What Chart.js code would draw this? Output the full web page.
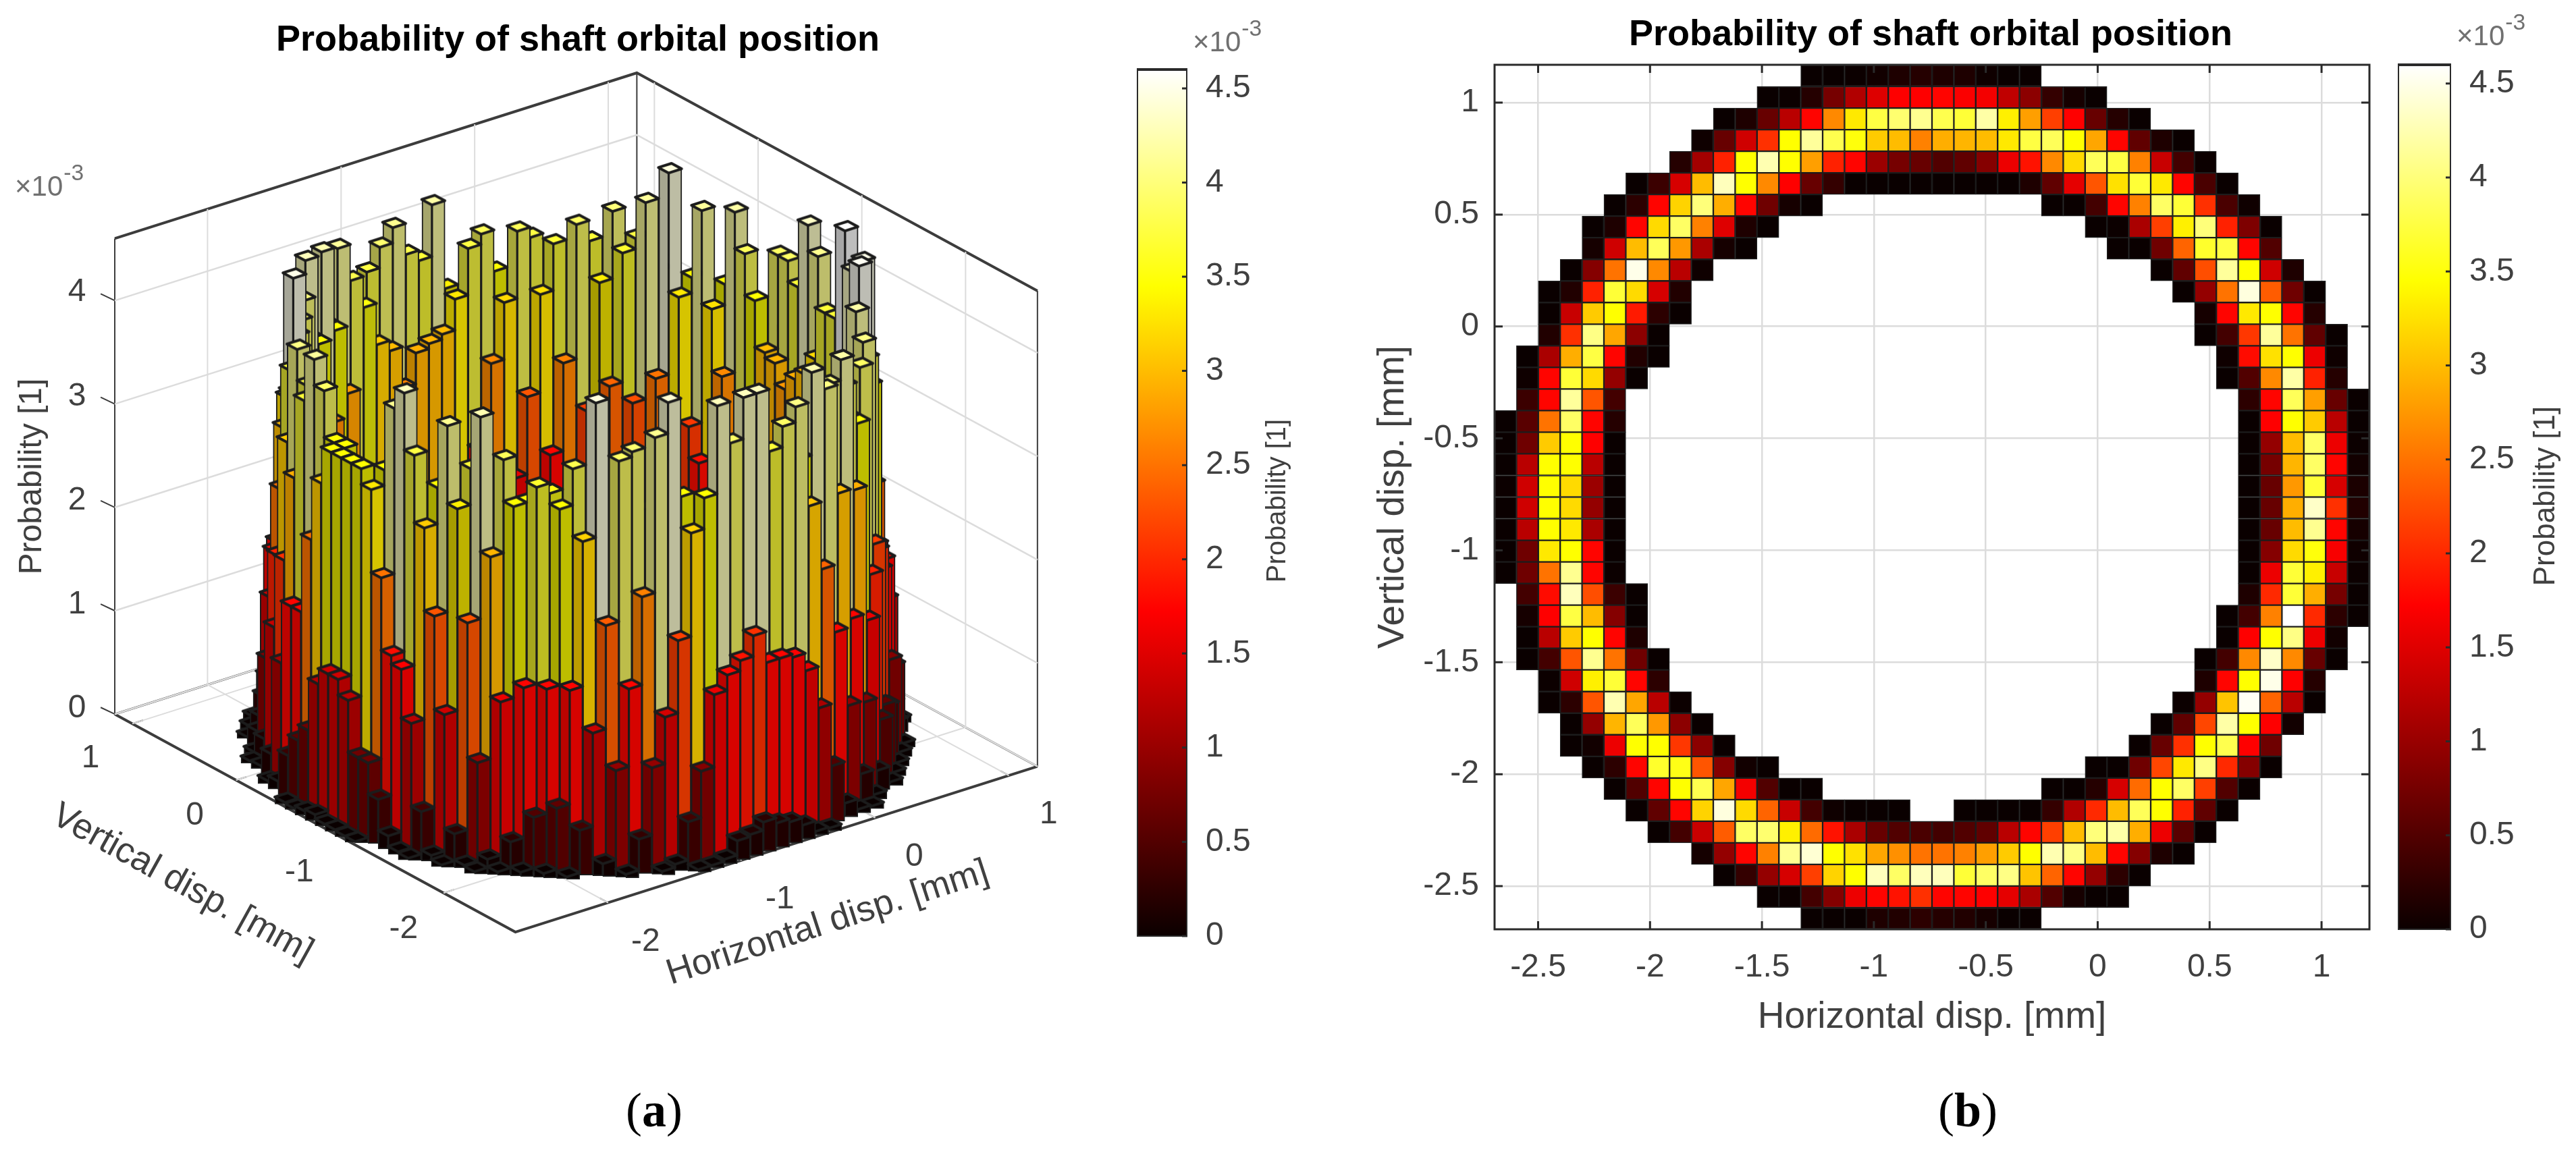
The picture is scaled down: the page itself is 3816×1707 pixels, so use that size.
<!DOCTYPE html>
<html>
<head>
<meta charset="utf-8">
<title>Probability of shaft orbital position</title>
<script src="https://cdn.jsdelivr.net/npm/chart.js@4/dist/chart.umd.min.js"></script>
<style>
    html, body { margin: 0; padding: 0; background: #fff; }
    #page { position: relative; width: 3816px; height: 1707px; overflow: hidden; }
    canvas { position: absolute; display: block; }
    .cap { position: absolute; font: 72px 'Liberation Serif', serif; color: #000; transform: translate(-50%, -50%); }
</style>
</head>
<body>
<div id="page">
    <canvas id="bars3d" width="1684" height="1560" style="left:0;top:0"></canvas>
    <canvas id="barA" width="240" height="1500" style="left:1684px;top:0"></canvas>
    <canvas id="heat" width="1540" height="1560" style="left:2000px;top:0"></canvas>
    <canvas id="barB" width="264" height="1500" style="left:3552px;top:0"></canvas>
    <div class="cap" style="left:969px;top:1645px">(<b>a</b>)</div>
    <div class="cap" style="left:2915px;top:1645px">(<b>b</b>)</div>
</div>
<script>
// probability per cell in units of 1e-3
// one entry per row from the top, each row = [first column, values] segments
var probRows = [
    [[14, [.05,.05,.08,.12,.2,.25,.2,.2,.1,.05,.03]]],
    [[12, [.05,.08,.25,.8,1.2,1.5,1.72,1.72,1.75,1.7,1.65,1.3,.95,.35,.15,.05]]],
    [[10, [.05,.2,.7,1.25,1.75,2.65,3.3,3.75,3.95,4.1,3.8,3.7,4.2,3.35,2.8,2.15,1.72,.7,.25,.05]]],
    [[9,  [.1,.7,1.4,2.05,3.45,4.15,3.8,3.5,3.1,3,2.6,2.9,2.95,3,3.3,3.75,3.85,3.45,2.85,1.75,.65,.2,.05]]],
    [[8,  [.25,1.1,1.95,3.45,4.25,3.45,2.8,1.95,1.75,1.05,.8,.7,.55,.65,.9,1.6,1.85,2.65,3.2,3.85,3.75,2.6,1.35,.45,.08]]],
    [[6,  [.05,.4,1.45,3,4.3,3.45,2.65,1.72,.7,.35,.05,.03,.03,.03,.03,.03,.03,.03,.2,.65,1.55,2.3,3.25,3.7,3.3,1.75,.5,.05]]],
    [[5,  [.05,.3,1.75,3.15,4,2.9,1.75,.75,.15,.05]], [25, [.05,.06,.45,1.75,2.6,3.9,3.7,2.05,.5,.1]]],
    [[4,  [.04,.2,1.75,3.2,3.9,2.6,1.5,.2,.05]], [27, [.04,.08,1.15,2.15,3.35,4,1.95,.85,.05]]],
    [[4,  [.15,1.4,3,3.85,2.75,1.15,.15,.05]], [28, [.04,.06,.75,2.4,3.65,3.75,1.75,.55]]],
    [[3,  [.04,.9,2.5,4.5,2.65,1.25,.1]], [30, [.05,.65,2.25,4.15,3.45,1.4,.2]]],
    [[2,  [.04,.22,1.95,3.7,3.2,1.45,.22]], [31, [.05,1,2.5,4.45,2.35,.75,.05]]],
    [[2,  [.05,1.35,3.1,3.45,1.9,.3,.04]], [32, [.15,1.75,3.3,3.45,1.75,.25]]],
    [[2,  [.22,2.05,4.05,2.85,.95,.05]], [32, [.04,.45,2.1,4.15,2.5,.65,.05]]],
    [[1,  [.05,1.15,2.9,3.75,1.75,.22,.04]], [33, [.1,1.8,3.25,3.45,1.6,.1]]],
    [[1,  [.1,1.75,3.7,3.2,1,.04]], [33, [.05,.55,2.65,4.2,1.95,.25]]],
    [[1,  [.4,1.75,4.15,2.3,.45]], [34, [.3,1.75,3.85,2.8,.7,.05]]],
    [[0,  [.04,.6,2.5,3.9,1.75,.25]], [34, [.05,1.72,3.45,3.1,1.25,.05]]],
    [[0,  [.03,.75,3.1,3.45,1.72,.06]], [34, [.04,1,3,3.9,1.6,.08]]],
    [[0,  [.06,1.25,3.45,3.45,1.25,.04]], [34, [.04,.8,2.95,3.9,1.75,.12]]],
    [[0,  [.08,1.4,3.45,3.2,1.05,.03]], [34, [.03,.7,2.75,3.7,1.45,.18]]],
    [[0,  [.04,1.4,3.45,3.2,1,.03]], [34, [.03,.7,2.9,4.35,2.05,.22]]],
    [[0,  [.04,1.25,3.45,3.3,1.15,.03]], [34, [.03,.7,3,4.1,1.75,.15]]],
    [[0,  [.03,.75,3.3,3.45,1.75,.05]], [34, [.03,.9,3.2,3.5,1.68,.1]]],
    [[0,  [.03,.75,2.5,4.1,1.75,.08]], [34, [.03,1.6,3.7,3.35,1.35,.08]]],
    [[1,  [.45,1.8,4.3,2.25,.4,.05]], [34, [.2,2,3.7,2.9,.8,.04]]],
    [[1,  [.15,1.72,3.75,3,.9,.04]], [33, [.05,.45,2.6,4.6,2,.3,.04]]],
    [[1,  [.05,1.25,3.1,3.45,1.75,.2]], [33, [.05,1.72,3.45,4.05,1.6,.12]]],
    [[1,  [.04,.45,2.3,4.1,2.5,.75,.04]], [32, [.04,.45,2.65,4.35,2.65,.7,.06]]],
    [[2,  [.08,1.4,3.35,3.7,1.75,.3]], [32, [.2,1.75,3.45,4.5,1.72,.25]]],
    [[2,  [.04,.3,2.3,4.25,2.85,1.25,.08]], [31, [.08,1,3.05,4.55,2.4,1.25,.05]]],
    [[3,  [.05,1,2.95,3.85,2.75,.95,.04]], [30, [.04,.65,2.2,4.2,3.45,1.72,.12]]],
    [[3,  [.04,.12,1.6,3.45,3.45,2.1,.95,.05]], [29, [.06,.7,2.05,3.45,3.8,1.72,.75]]],
    [[4,  [.05,.3,1.75,3.65,3.55,2.3,.9,.12,.05]], [27, [.05,.06,.75,2.2,3.3,4.05,2,.9,.05]]],
    [[5,  [.06,.55,1.75,3.45,3.8,2.85,1.65,.55,.04,.04]], [25, [.04,.04,.25,1.45,2.45,3.45,3.9,2.15,.55,.06]]],
    [[6,  [.06,.65,1.75,3.15,4.45,3.2,2.4,1.35,.45,.1,.05,.04,.04]], [21, [.03,.03,.03,.05,.35,1.2,2,3,3.85,3.45,1.95,.65,.05]]],
    [[7,  [.04,.45,1.35,2.35,3.9,3.95,3.35,2.45,1.85,1.15,.7,.55,.5,.45,.55,.65,1.25,1.75,2.15,3,4,4.2,2.9,1.6,.6,.05]]],
    [[9,  [.14,1,1.75,2.6,4.1,4.4,3.45,3.25,2.85,2.7,2.5,2.5,2.6,2.8,3.1,3.45,4.25,4.05,3,1.75,.9,.2,.05]]],
    [[10, [.05,.35,1,1.45,2.15,3.15,3.45,4.3,3.9,4.3,4.3,3.7,3.9,4.05,3.05,2.4,1.75,1,.3,.06]]],
    [[12, [.05,.08,.45,.9,1.6,1.75,1.85,2.05,1.75,1.75,1.72,1.55,1.15,.55,.15,.05,.04]]],
    [[14, [.04,.04,.06,.2,.22,.3,.25,.22,.15,.05,.04]]]
];

var xTicks    = [-2.5, -2, -1.5, -1, -0.5, 0, 0.5, 1];
var yTicks    = [-2.5, -2, -1.5, -1, -0.5, 0, 0.5, 1];
var xTicks3d  = [-2, -1, 0, 1];
var yTicks3d  = [-2, -1, 0, 1];
var zTicks    = [0, 1, 2, 3, 4];
var barTicks  = [0, 0.5, 1, 1.5, 2, 2.5, 3, 3.5, 4, 4.5];
var hotStops  = [[0, '#0b0000'], [0.375, '#ff0000'], [0.75, '#ffff00'], [1, '#ffffff']];

var XMIN = -2.6945, XMAX = 1.214, YMIN = -2.693, YMAX = 1.169, ZMAX = 4.6;
var N = 40;
var DX = (XMAX - XMIN) / N, DY = (YMAX - YMIN) / N;

var TITLE = 'Probability of shaft orbital position';
var TEXT = '#404040', SOFT = '#707070', EDGE = '#1c1c1c';
var SANS = "'Liberation Sans', Arial, sans-serif";

Chart.defaults.font.family = SANS;
Chart.defaults.animation = false;
Chart.defaults.responsive = false;
Chart.defaults.devicePixelRatio = 1;
Chart.defaults.events = [];
Chart.defaults.plugins.legend.display = false;
Chart.defaults.plugins.tooltip.enabled = false;

function clamp01(t) { return Math.max(0, Math.min(1, t)); }

function hot(v, k) {
    var t = v / ZMAX;
    k = k || 1;
    var r = Math.max(0.04, clamp01(t / 0.375));
    var g = clamp01((t - 0.375) / 0.375);
    var b = clamp01((t - 0.75) / 0.25);
    return 'rgb(' + Math.round(r * k * 255) + ',' + Math.round(g * k * 255) + ',' + Math.round(b * k * 255) + ')';
}

// flatten the rows into cells
var cells = [];
probRows.forEach(function (segs, row) {
    segs.forEach(function (seg) {
        seg[1].forEach(function (v, i) {
            cells.push({ col: seg[0] + i, row: row, v: v });
        });
    });
});

// writes a list of texts on a chart, x and y in canvas pixels
function textPlugin(items) {
    return {
        id: 'texts',
        afterDraw: function (chart) {
            var ctx = chart.ctx;
            items.forEach(function (it) {
                ctx.save();
                ctx.translate(it.x, it.y);
                ctx.rotate((it.rot || 0) * Math.PI / 180);
                ctx.font = (it.bold ? 'bold ' : '') + it.size + 'px ' + SANS;
                ctx.fillStyle = it.color || TEXT;
                ctx.textAlign = it.align || 'center';
                ctx.textBaseline = it.base || 'middle';
                ctx.fillText(it.text, 0, 0);
                ctx.restore();
            });
        }
    };
}

function timesTen(x, y, size) {
    return [
        { text: '\u00d710', x: x, y: y, size: size, color: SOFT, align: 'left', base: 'alphabetic' },
        { text: '-3', x: x + size * 1.72, y: y - size * 0.55, size: size * 0.8, color: SOFT, align: 'left', base: 'alphabetic' }
    ];
}

// ----- panel (a): the same cells as 3D bars, projected to canvas pixels -----

var FRONT = { x: 763, y: 1385 };
var X_VEC = { x: (1541 - 763) / (XMAX - XMIN), y: (1138 - 1385) / (XMAX - XMIN) };
var Y_VEC = { x: (166 - 763) / (YMAX - YMIN), y: (1060 - 1385) / (YMAX - YMIN) };
var Z_UNIT = 154.2;

function project(x, y, z) {
    return {
        x: FRONT.x + (x - XMIN) * X_VEC.x + (y - YMIN) * Y_VEC.x,
        y: FRONT.y + (x - XMIN) * X_VEC.y + (y - YMIN) * Y_VEC.y - z * Z_UNIT
    };
}

var stepX = { x: DX * X_VEC.x, y: DX * X_VEC.y };
var stepY = { x: DY * Y_VEC.x, y: DY * Y_VEC.y };
var capCache = {};

function capStyle(color) {
    if (capCache[color]) return capCache[color];
    var w = stepX.x - stepY.x, h = -stepX.y - stepY.y;
    var c = document.createElement('canvas');
    c.width = Math.ceil(w + 6);
    c.height = Math.ceil(h + 6);
    var g = c.getContext('2d');
    var x0 = 3 - stepY.x, y0 = 3 + h;
    g.beginPath();
    g.moveTo(x0, y0);
    g.lineTo(x0 + stepX.x, y0 + stepX.y);
    g.lineTo(x0 + stepX.x + stepY.x, y0 + stepX.y + stepY.y);
    g.lineTo(x0 + stepY.x, y0 + stepY.y);
    g.closePath();
    g.fillStyle = color;
    g.fill();
    g.lineWidth = 4;
    g.lineJoin = 'round';
    g.strokeStyle = EDGE;
    g.stroke();
    capCache[color] = c;
    return c;
}

function sideFactor(v) { return v > 3.3 ? 0.74 : 0.84; }

var bars3dSets = [];
var layers = {};
cells.forEach(function (c) {
    var d = c.col + (N - 1 - c.row);
    (layers[d] = layers[d] || []).push(c);
});

// lower order is painted later, so depth 0 (nearest) ends on top
Object.keys(layers).forEach(function (key) {
    var d = +key, list = layers[key];
    var left = [], right = [], caps = [], leftCol = [], rightCol = [], capCol = [];
    list.forEach(function (c) {
        var x = XMIN + c.col * DX;
        var y = YMAX - (c.row + 1) * DY;
        var base = project(x, y, 0), top = project(x, y, c.v);
        left.push({ x: base.x + stepY.x / 2, y: [base.y + stepY.y / 2, top.y + stepY.y] });
        right.push({ x: base.x + stepX.x / 2, y: [base.y + stepX.y / 2, top.y + stepX.y] });
        caps.push({ x: top.x + (stepX.x + stepY.x) / 2, y: top.y + (stepX.y + stepY.y) / 2 });
        var k = sideFactor(c.v);
        leftCol.push(hot(c.v, k * 0.88));
        rightCol.push(hot(c.v, k));
        capCol.push(capStyle(hot(c.v)));
    });
    var face = { type: 'bar', grouped: false, borderColor: EDGE, borderWidth: 2, borderSkipped: false, clip: false };
    bars3dSets.push(Object.assign({}, face, { data: left, backgroundColor: leftCol, barThickness: -stepY.x, order: d * 3 + 2 }));
    bars3dSets.push(Object.assign({}, face, { data: right, backgroundColor: rightCol, barThickness: stepX.x, order: d * 3 + 1 }));
    bars3dSets.push({ type: 'scatter', data: caps, pointStyle: capCol, pointRadius: 4, order: d * 3, clip: false });
});

function frameLine(points, color, width) {
    return { type: 'scatter', showLine: true, data: points, borderColor: color, borderWidth: width,
             pointRadius: 0, order: 1000, clip: false };
}

var GRID3D = '#dcdcdc', FRAME = '#3c3c3c';
var frameSets = [];

xTicks3d.forEach(function (x) {
    frameSets.push(frameLine([project(x, YMAX, 0), project(x, YMAX, ZMAX)], GRID3D, 2));
    frameSets.push(frameLine([project(x, YMIN, 0), project(x, YMAX, 0)], GRID3D, 2));
});
yTicks3d.forEach(function (y) {
    frameSets.push(frameLine([project(XMAX, y, 0), project(XMAX, y, ZMAX)], GRID3D, 2));
    frameSets.push(frameLine([project(XMIN, y, 0), project(XMAX, y, 0)], GRID3D, 2));
});
zTicks.forEach(function (z) {
    frameSets.push(frameLine([project(XMIN, YMAX, z), project(XMAX, YMAX, z), project(XMAX, YMIN, z)], GRID3D, 2.5));
});

// the black parts of the box
frameSets.push(frameLine([project(XMIN, YMAX, ZMAX), project(XMAX, YMAX, ZMAX), project(XMAX, YMIN, ZMAX)], FRAME, 4));
frameSets.push(frameLine([project(XMIN, YMAX, 0), project(XMIN, YMIN, 0), project(XMAX, YMIN, 0)], FRAME, 4));
frameSets.push(frameLine([project(XMIN, YMAX, 0), project(XMAX, YMAX, 0), project(XMAX, YMIN, 0)], FRAME, 3));
frameSets.push(frameLine([project(XMIN, YMAX, 0), project(XMIN, YMAX, ZMAX)], FRAME, 2));
frameSets.push(frameLine([project(XMAX, YMAX, 0), project(XMAX, YMAX, ZMAX)], FRAME, 2));
frameSets.push(frameLine([project(XMAX, YMIN, 0), project(XMAX, YMIN, ZMAX)], FRAME, 2));

var texts3d = [
    { text: TITLE, x: 856, y: 60, size: 54, bold: true, color: '#000' },
    { text: 'Probability [1]', x: 48, y: 706, size: 48, rot: -90 },
    { text: 'Vertical disp. [mm]', x: 270, y: 1310, size: 53, rot: 29 },
    { text: 'Horizontal disp. [mm]', x: 1226, y: 1368, size: 53, rot: -18 }
].concat(timesTen(22, 290, 42));

zTicks.forEach(function (z) {
    var p = project(XMIN, YMAX, z);
    frameSets.push(frameLine([p, { x: p.x - 21, y: p.y - 10 }], FRAME, 2));
    texts3d.push({ text: String(z), x: p.x - 52, y: p.y - 10, size: 48 });
});
yTicks3d.forEach(function (y) {
    var p = project(XMIN, y, 0);
    frameSets.push(frameLine([p, project(XMIN + 0.08, y, 0)], FRAME, 2));
    texts3d.push({ text: String(y), x: p.x - 58, y: p.y + 50, size: 48 });
});
xTicks3d.forEach(function (x) {
    var p = project(x, YMIN, 0);
    frameSets.push(frameLine([p, project(x, YMIN + 0.08, 0)], FRAME, 2));
    texts3d.push({ text: String(x), x: p.x + 55, y: p.y + 55, size: 48 });
});

new Chart(document.getElementById('bars3d'), {
    type: 'bar',
    data: { datasets: frameSets.concat(bars3dSets) },
    options: {
        layout: { padding: 0 },
        scales: {
            x: { type: 'linear', min: 0, max: 1684, offset: false, display: false },
            y: { type: 'linear', min: 0, max: 1560, reverse: true, display: false }
        }
    },
    plugins: [textPlugin(texts3d)]
});

// ----- panel (b): the heat map -----

var heatData = cells.map(function (c) {
    var top = YMAX - c.row * DY;
    return { x: XMIN + (c.col + 0.5) * DX, y: [top - DY, top] };
});

var innerTicks = {
    id: 'innerTicks',
    afterDraw: function (chart) {
        var ctx = chart.ctx, a = chart.chartArea;
        ctx.save();
        ctx.strokeStyle = '#2a2a2a';
        ctx.lineWidth = 3;
        ctx.strokeRect(a.left, a.top, a.right - a.left, a.bottom - a.top);
        ctx.beginPath();
        xTicks.forEach(function (v) {
            var px = chart.scales.x.getPixelForValue(v);
            ctx.moveTo(px, a.top); ctx.lineTo(px, a.top + 12);
            ctx.moveTo(px, a.bottom); ctx.lineTo(px, a.bottom - 12);
        });
        yTicks.forEach(function (v) {
            var py = chart.scales.y.getPixelForValue(v);
            ctx.moveTo(a.left, py); ctx.lineTo(a.left + 12, py);
            ctx.moveTo(a.right, py); ctx.lineTo(a.right - 12, py);
        });
        ctx.stroke();
        ctx.restore();
    }
};

new Chart(document.getElementById('heat'), {
    type: 'bar',
    data: {
        datasets: [{
            data: heatData,
            grouped: false,
            barThickness: 32.4,
            clip: false,
            backgroundColor: cells.map(function (c) { return hot(c.v); }),
            borderColor: EDGE,
            borderWidth: 1.5,
            borderSkipped: false
        }]
    },
    options: {
        layout: { padding: { top: 96, right: 30 } },
        scales: {
            x: {
                type: 'linear', min: XMIN, max: XMAX, offset: false,
                afterBuildTicks: function (s) { s.ticks = xTicks.map(function (v) { return { value: v }; }); },
                afterFit: function (s) { s.height = 183; },
                grid: { color: '#dcdcdc', lineWidth: 2.5, drawTicks: false, offset: false },
                border: { display: false },
                ticks: { color: TEXT, font: { size: 48 }, padding: 28, maxRotation: 0, autoSkip: false,
                         callback: function (v) { return String(v); } },
                title: { display: true, text: 'Horizontal disp. [mm]', color: TEXT, font: { size: 55 }, padding: { top: 0, bottom: 19 } }
            },
            y: {
                type: 'linear', min: YMIN, max: YMAX,
                afterBuildTicks: function (s) { s.ticks = yTicks.map(function (v) { return { value: v }; }); },
                afterFit: function (s) { s.width = 214; },
                grid: { color: '#dcdcdc', lineWidth: 2.5, drawTicks: false },
                border: { display: false },
                ticks: { color: TEXT, font: { size: 48 }, padding: 23, autoSkip: false,
                         callback: function (v) { return String(v); } },
                title: { display: true, text: 'Vertical disp. [mm]', color: TEXT, font: { size: 55 }, padding: { top: 31, bottom: 0 } }
            }
        }
    },
    plugins: [innerTicks, textPlugin([{ text: TITLE, x: 860, y: 52, size: 54, bold: true, color: '#000' }])]
});

// ----- colorbars -----

function hotGradient(context) {
    var a = context.chart.chartArea;
    if (!a) return '#000';
    var g = context.chart.ctx.createLinearGradient(0, a.bottom, 0, a.top);
    hotStops.forEach(function (s) { g.addColorStop(s[0], s[1]); });
    return g;
}

var barFrame = {
    id: 'barFrame',
    afterDraw: function (chart) {
        var ctx = chart.ctx, a = chart.chartArea;
        ctx.save();
        ctx.strokeStyle = '#2a2a2a';
        ctx.lineWidth = 2;
        ctx.strokeRect(a.left + 1, a.top, a.right - a.left - 2, a.bottom - a.top);
        ctx.lineWidth = 4;
        ctx.beginPath();
        ctx.moveTo(a.left, a.top);
        ctx.lineTo(a.right, a.top);
        ctx.stroke();
        ctx.lineWidth = 3;
        ctx.beginPath();
        barTicks.forEach(function (v) {
            var py = chart.scales.y.getPixelForValue(v);
            ctx.moveTo(a.right, py);
            ctx.lineTo(a.right - 8, py);
        });
        ctx.stroke();
        ctx.restore();
    }
};

function colorbar(id, top, bottom, barWidth, canvasW, canvasH, extras) {
    new Chart(document.getElementById(id), {
        type: 'bar',
        data: {
            labels: ['bar'],
            datasets: [{ data: [[0, ZMAX]], backgroundColor: hotGradient, barPercentage: 1, categoryPercentage: 1 }]
        },
        options: {
            layout: { padding: { top: top, bottom: canvasH - bottom } },
            scales: {
                x: { display: false },
                y: {
                    position: 'right', min: 0, max: ZMAX,
                    afterBuildTicks: function (s) { s.ticks = barTicks.map(function (v) { return { value: v }; }); },
                    afterFit: function (s) { s.width = canvasW - barWidth; },
                    grid: { display: false },
                    border: { display: false },
                    ticks: { color: TEXT, font: { size: 48 }, padding: 19, autoSkip: false,
                             callback: function (v) { return String(v); } }
                }
            }
        },
        plugins: [barFrame, textPlugin(extras)]
    });
}

colorbar('barA', 103, 1387, 75, 240, 1500,
    [{ text: 'Probability [1]', x: 209, y: 742, size: 40, rot: -90 }].concat(timesTen(83, 76, 42)));
colorbar('barB', 96, 1377, 79, 264, 1500,
    [{ text: 'Probability [1]', x: 220, y: 735, size: 44, rot: -90 }].concat(timesTen(87, 67, 42)));
</script>
</body>
</html>
